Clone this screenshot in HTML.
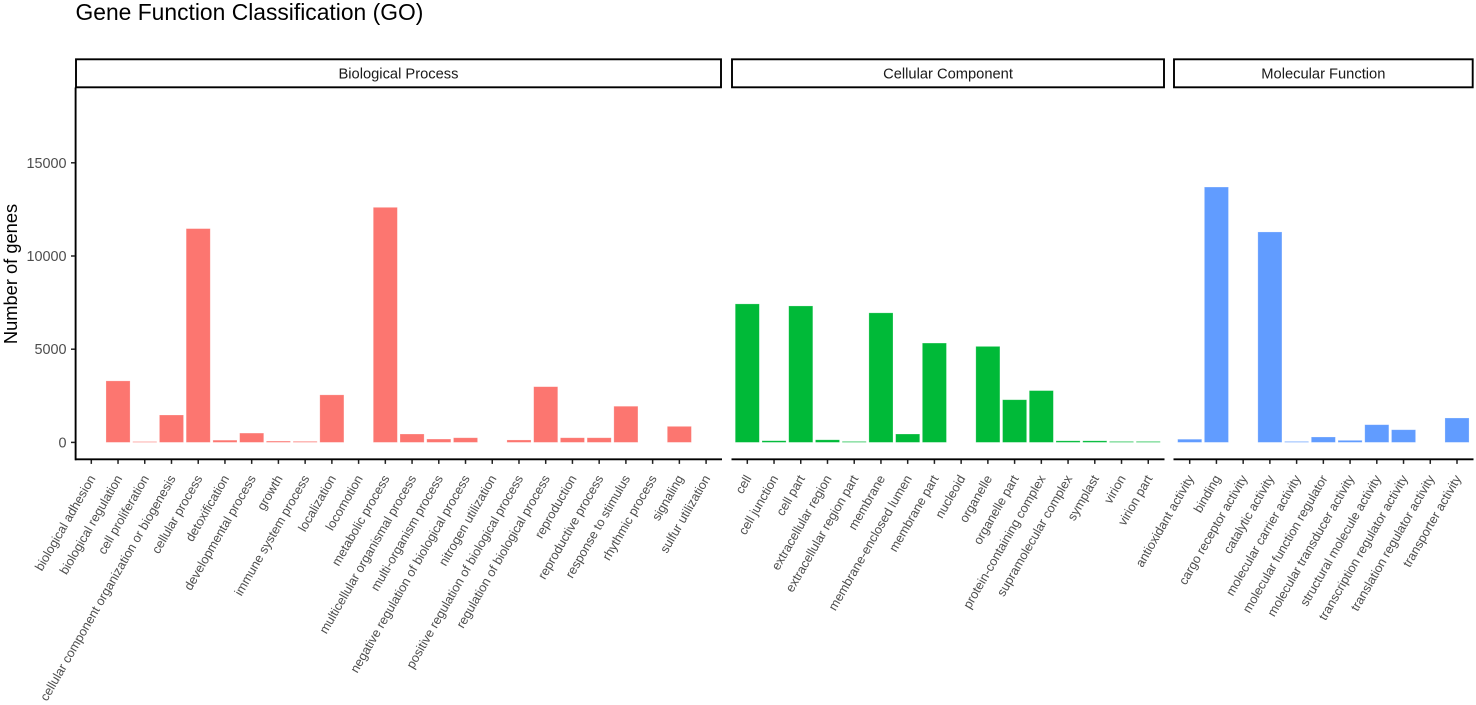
<!DOCTYPE html>
<html lang="en">
<head>
<meta charset="utf-8">
<title>Gene Function Classification (GO)</title>
<style>
html,body{margin:0;padding:0;background:#fff;width:1476px;height:705px;overflow:hidden}
svg{display:block;font-family:"Liberation Sans",Arial,sans-serif}
</style>
</head>
<body>
<svg id="chart" width="1476" height="705" viewBox="0 0 1476 705" xmlns="http://www.w3.org/2000/svg">
  <rect x="0" y="0" width="1476" height="705" fill="#fff"/>
  <text x="75.5" y="19.8" font-size="22.85" fill="#000">Gene Function Classification (GO)</text>
  <text transform="translate(17,274) rotate(-90)" text-anchor="middle" font-size="18.3" fill="#000">Number of genes</text>
  <g id="layer"></g>
</svg>
<script>
const bpCategories = ["biological adhesion","biological regulation","cell proliferation","cellular component organization or biogenesis","cellular process","detoxification","developmental process","growth","immune system process","localization","locomotion","metabolic process","multicellular organismal process","multi-organism process","negative regulation of biological process","nitrogen utilization","positive regulation of biological process","regulation of biological process","reproduction","reproductive process","response to stimulus","rhythmic process","signaling","sulfur utilization"];
const bpValues = [0,3300,45,1470,11470,120,500,70,55,2550,0,12610,450,180,250,0,130,2990,250,250,1940,0,860,0];
const ccCategories = ["cell","cell junction","cell part","extracellular region","extracellular region part","membrane","membrane-enclosed lumen","membrane part","nucleoid","organelle","organelle part","protein-containing complex","supramolecular complex","symplast","virion","virion part"];
const ccValues = [7430,90,7320,140,50,6950,450,5330,0,5150,2290,2780,85,85,50,50];
const mfCategories = ["antioxidant activity","binding","cargo receptor activity","catalytic activity","molecular carrier activity","molecular function regulator","molecular transducer activity","structural molecule activity","transcription regulator activity","translation regulator activity","transporter activity"];
const mfValues = [170,13700,0,11290,50,290,110,950,680,0,1310];
const yTicks = [0,5000,10000,15000];
const panelTitles = ["Biological Process","Cellular Component","Molecular Function"];

const NS = "http://www.w3.org/2000/svg";
const layer = document.getElementById("layer");
const step = 26.73;
const barWidth = 24.1;
const axisY = 459.3;
function yScale(v){ return 442.4 - v * 0.01864; }
function bandCenter(first, i){ return first + i * step; }
function make(tag, attrs){
  const el = document.createElementNS(NS, tag);
  for (const k in attrs) el.setAttribute(k, attrs[k]);
  layer.appendChild(el);
  return el;
}
const panels = [
  {key:"bp", title:panelTitles[0], cats:bpCategories, vals:bpValues, color:"#FC7670", first:91.3, left:75, right:722, sl:76, sr:721},
  {key:"cc", title:panelTitles[1], cats:ccCategories, vals:ccValues, color:"#00BA38", first:747.3, left:731.5, right:1164.5, sl:732, sr:1164},
  {key:"mf", title:panelTitles[2], cats:mfCategories, vals:mfValues, color:"#619CFF", first:1189.7, left:1173.5, right:1473.5, sl:1174, sr:1472.7}
];
panels.forEach(function(p){
  const strip = make("rect",{x:p.sl,y:59.3,width:p.sr-p.sl,height:28,fill:"#fff",stroke:"#000","stroke-width":1.9});
  
  
  const stripText = make("text",{x:(p.sl+p.sr)/2,y:78.4,"text-anchor":"middle","font-size":14.7,fill:"#1a1a1a"});
  stripText.textContent = p.title;
  
  

  p.vals.forEach(function(v, i){
    const cx = bandCenter(p.first, i);
    if (v > 0) {
      const top = yScale(v);
      const bar = make("rect",{x:cx-barWidth/2,y:top,width:barWidth,height:yScale(0)-top,fill:p.color,stroke:"#fff","stroke-opacity":0.35,"stroke-width":0.7});
      
      
    }
    const tick = make("line",{x1:cx,x2:cx,y1:axisY,y2:axisY+4.6,stroke:"#222","stroke-width":1.5});
    
    
    const label = make("text",{transform:"translate("+(cx+4.6)+","+(axisY+19)+") rotate(-60)","text-anchor":"end","font-size":12.7,fill:"#4D4D4D"});
    label.textContent = p.cats[i];
    
    
  });

  const axis = make("line",{x1:p.left,x2:p.right,y1:axisY,y2:axisY,stroke:"#000","stroke-width":1.9});
  
  
});

const yAxis = make("line",{x1:75.6,x2:75.6,y1:87.5,y2:axisY+1,stroke:"#000","stroke-width":1.9});


yTicks.forEach(function(t){
  const y = yScale(t);
  const tick = make("line",{x1:71,x2:75,y1:y,y2:y,stroke:"#222","stroke-width":1.5});
  
  
  const label = make("text",{x:66.5,y:y+5,"text-anchor":"end","font-size":14.4,fill:"#4D4D4D"});
  label.textContent = String(t);
  
  
});
</script>
</body>
</html>
